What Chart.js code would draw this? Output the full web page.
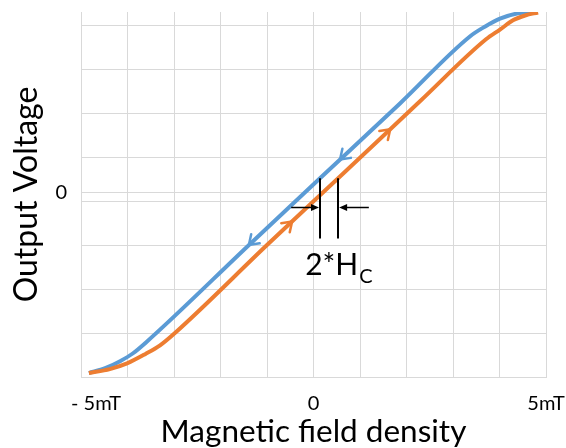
<!DOCTYPE html>
<html lang="en">
<head>
<meta charset="UTF-8">
<title>Hysteresis</title>
<script src="https://cdn.jsdelivr.net/npm/chart.js"></script>
<style>
  html, body { margin: 0; padding: 0; background: #fff; }
  #wrap { width: 566px; height: 448px; }
</style>
</head>
<body>
<div id="wrap"><canvas id="chart"></canvas></div>
<script>
// rising branch (orange) - field in mT, voltage in grid units
const risingX = [-4.83, -4.38, -4.01, -3.62, -3.30, -2.98, -1.00, 0.53, 2.29, 3.71, 4.01, 4.29, 4.55, 4.83];
const risingY = [-4.11, -4.02, -3.89, -3.68, -3.48, -3.20, -1.20, 0.32, 2.07, 3.48, 3.70, 3.91, 4.02, 4.09];

// falling branch (blue)
const fallingX = [-4.83, -4.48, -4.16, -3.88, -3.62, -1.37, 0.14, 1.86, 3.37, 3.69, 4.01, 4.40, 4.79];
const fallingY = [-4.11, -4.00, -3.84, -3.66, -3.43, -1.18, 0.32, 2.02, 3.55, 3.77, 3.95, 4.07, 4.10];

// arrow heads along the curves (x where they sit)
const risingArrows = [-0.46, 1.65];
const fallingArrows = [0.57, -1.39];

// axis ticks
const xTicks = [-5, -4, -3, -2, -1, 0, 1, 2, 3, 4, 5];
const xTickText = ['- 5mT', '', '', '', '', '0', '', '', '', '', '5mT'];
const yTicks = [-4.2, -3.2, -2.2, -1.2, -0.2, 0, 0.8, 1.8, 2.8, 3.8];

// 2*Hc marker
const hcX = [0.14, 0.53];
const hcTop = 0.32, hcBottom = -1.05;
const hcArrowY = -0.34;
const hcArrowFrom = [-0.48, 1.19];
const hcLabelAt = [-0.18, -1.89];

const BLUE = '#5B9BD5';
const ORANGE = '#ED7D31';
const GRID = '#D9D9D9';
const FONT = 'Lato, "Liberation Sans", sans-serif';

const toPoints = (xs, ys) => xs.map((x, i) => ({ x: x, y: ys[i] }));

// pixel position + direction on a dataset at a given x
function pointOn(chart, idx, x) {
    const pts = chart.getDatasetMeta(idx).data;
    const px = chart.scales.x.getPixelForValue(x);
    for (let i = 0; i < pts.length - 1; i++) {
        const a = pts[i], b = pts[i + 1];
        if (px >= a.x && px <= b.x) {
            const t = (px - a.x) / (b.x - a.x);
            return { x: px, y: a.y + t * (b.y - a.y), ang: Math.atan2(b.y - a.y, b.x - a.x) };
        }
    }
    return null;
}

function chevron(ctx, x, y, ang, len, color) {
    const spread = 0.6;
    ctx.save();
    ctx.strokeStyle = color;
    ctx.lineWidth = 2.5;
    ctx.lineCap = 'round';
    ctx.beginPath();
    ctx.moveTo(x - len * Math.cos(ang - spread), y - len * Math.sin(ang - spread));
    ctx.lineTo(x, y);
    ctx.lineTo(x - len * Math.cos(ang + spread), y - len * Math.sin(ang + spread));
    ctx.stroke();
    ctx.restore();
}

function arrowLine(ctx, x1, y, x2) {
    const dir = Math.sign(x2 - x1);
    ctx.beginPath();
    ctx.moveTo(x1, y);
    ctx.lineTo(x2 - dir * 6, y);
    ctx.stroke();
    ctx.beginPath();
    ctx.moveTo(x2, y);
    ctx.lineTo(x2 - dir * 8, y - 3.5);
    ctx.lineTo(x2 - dir * 8, y + 3.5);
    ctx.closePath();
    ctx.fill();
}

const marks = {
    id: 'marks',
    afterDatasetsDraw(chart) {
        const ctx = chart.ctx;
        const sx = chart.scales.x, sy = chart.scales.y;

        risingArrows.forEach(x => {
            const p = pointOn(chart, 0, x);
            if (p) chevron(ctx, p.x, p.y, p.ang, 11, ORANGE);
        });
        fallingArrows.forEach(x => {
            const p = pointOn(chart, 1, x);
            if (p) chevron(ctx, p.x, p.y, p.ang + Math.PI, 11, BLUE);
        });

        ctx.save();
        ctx.strokeStyle = '#000';
        ctx.fillStyle = '#000';
        ctx.lineWidth = 2;
        hcX.forEach(x => {
            const px = Math.round(sx.getPixelForValue(x));
            ctx.beginPath();
            ctx.moveTo(px, sy.getPixelForValue(hcTop));
            ctx.lineTo(px, sy.getPixelForValue(hcBottom));
            ctx.stroke();
        });
        ctx.lineWidth = 1.5;
        const ay = Math.round(sy.getPixelForValue(hcArrowY)) + 0.5;
        arrowLine(ctx, sx.getPixelForValue(hcArrowFrom[0]), ay, sx.getPixelForValue(hcX[0]) - 1);
        arrowLine(ctx, sx.getPixelForValue(hcArrowFrom[1]), ay, sx.getPixelForValue(hcX[1]) + 1);

        // 2*Hc label
        const lx = sx.getPixelForValue(hcLabelAt[0]);
        const ly = sy.getPixelForValue(hcLabelAt[1]);
        ctx.textBaseline = 'alphabetic';
        ctx.textAlign = 'left';
        ctx.font = '30px ' + FONT;
        ctx.fillText('2*H', lx, ly);
        const w = ctx.measureText('2*H').width;
        ctx.font = '20px ' + FONT;
        ctx.fillText('C', lx + w + 1, ly + 8);
        ctx.restore();
    }
};

// keep the plot box where it is in the picture (no room reserved for edge labels)
const noEdgePad = s => {
    s.paddingLeft = 0;
    s.paddingRight = 0;
    s.paddingTop = 0;
    s.paddingBottom = 0;
};

new Chart(document.getElementById('chart'), {
    type: 'line',
    data: {
        datasets: [
            {
                label: 'Rising',
                data: toPoints(risingX, risingY),
                borderColor: ORANGE,
                borderWidth: 4,
                pointRadius: 0,
                cubicInterpolationMode: 'monotone',
                fill: false
            },
            {
                label: 'Falling',
                data: toPoints(fallingX, fallingY),
                borderColor: BLUE,
                borderWidth: 4,
                pointRadius: 0,
                cubicInterpolationMode: 'monotone',
                fill: false
            }
        ]
    },
    options: {
        responsive: true,
        maintainAspectRatio: false,
        animation: false,
        layout: { padding: { top: 12, right: 20, left: 0, bottom: 0 } },
        plugins: {
            legend: { display: false },
            tooltip: { enabled: false }
        },
        scales: {
            x: {
                type: 'linear',
                min: -5,
                max: 5,
                afterBuildTicks: s => { s.ticks = xTicks.map(v => ({ value: v })); },
                afterFit: s => { s.height = 71; noEdgePad(s); },
                grid: { color: GRID, drawTicks: false },
                border: { color: GRID },
                ticks: {
                    autoSkip: false,
                    maxRotation: 0,
                    padding: 15,
                    color: '#000',
                    font: { family: FONT, size: 20 },
                    callback: (v, i) => i === 0 ? '\u2002\u2002\u2002' + xTickText[i] : xTickText[i]
                },
                title: {
                    display: true,
                    text: 'Magnetic field density',
                    color: '#000',
                    font: { family: FONT, size: 31.5, lineHeight: 1 },
                    padding: { top: 0, bottom: 0 }
                }
            },
            y: {
                type: 'linear',
                min: -4.2,
                max: 4.1,
                afterBuildTicks: s => { s.ticks = yTicks.map(v => ({ value: v })); },
                afterFit: s => { s.width = 81; noEdgePad(s); },
                grid: { color: GRID, drawTicks: false },
                border: { color: GRID },
                ticks: {
                    autoSkip: false,
                    padding: 14,
                    color: '#000',
                    font: { family: FONT, size: 20 },
                    callback: v => (Math.abs(v) < 1e-9 ? '0' : '')
                },
                title: {
                    display: true,
                    text: 'Output Voltage',
                    color: '#000',
                    font: { family: FONT, size: 32, lineHeight: 1 },
                    padding: { top: 11, bottom: 0 }
                }
            }
        }
    },
    plugins: [marks]
});
</script>
</body>
</html>
